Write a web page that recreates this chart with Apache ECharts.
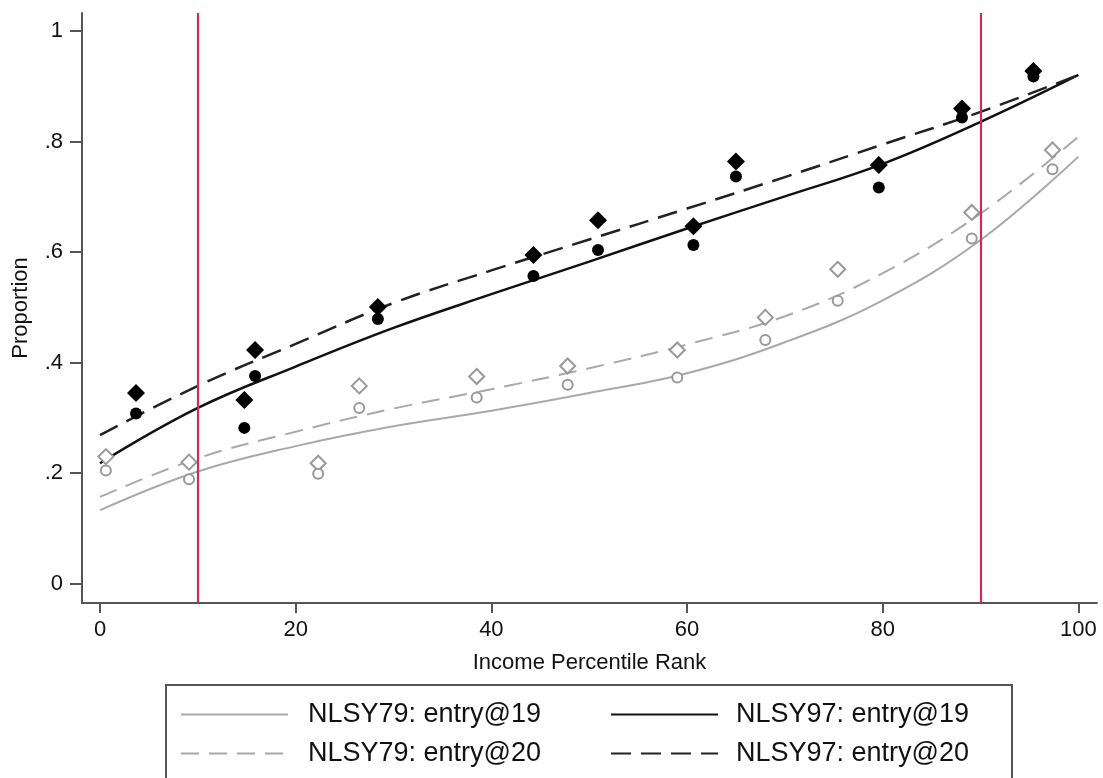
<!DOCTYPE html>
<html>
<head>
<meta charset="utf-8">
<script src="https://cdn.jsdelivr.net/npm/echarts@6/dist/echarts.min.js"></script>
<style>
html,body{margin:0;padding:0;background:#fff;}
#chart{width:1103px;height:778px;}
</style>
</head>
<body>
<div id="chart"></div>
<script>
// ---- data ----
var xTicks = [0, 20, 40, 60, 80, 100];
var xTickLabels = ['0', '20', '40', '60', '80', '100'];
var yTicks = [0, 0.2, 0.4, 0.6, 0.8, 1];
var yTickLabels = ['0', '.2', '.4', '.6', '.8', '1'];
var redLineX = [10, 90];

// fitted curves (sampled along the drawn curves)
var curveX = [0, 10, 20, 30, 40, 50, 60, 70, 80, 90, 100];
var fit79_19 = [0.133, 0.203, 0.249, 0.285, 0.313, 0.345, 0.381, 0.437, 0.513, 0.622, 0.773];
var fit79_20 = [0.157, 0.227, 0.275, 0.317, 0.352, 0.390, 0.433, 0.484, 0.562, 0.670, 0.809];
var fit97_19 = [0.218, 0.318, 0.393, 0.463, 0.524, 0.583, 0.643, 0.701, 0.760, 0.836, 0.921];
var fit97_20 = [0.269, 0.358, 0.434, 0.508, 0.567, 0.623, 0.679, 0.736, 0.795, 0.854, 0.921];

// observed points
var x79 = [0.6, 9.1, 22.3, 26.5, 38.5, 47.8, 59.0, 68.0, 75.4, 89.1, 97.35];
var pts79_20 = [0.230, 0.220, 0.218, 0.358, 0.375, 0.394, 0.423, 0.482, 0.569, 0.672, 0.785];
var pts79_19 = [0.205, 0.189, 0.199, 0.318, 0.337, 0.360, 0.373, 0.441, 0.512, 0.625, 0.750];
var x97 = [3.68, 14.75, 15.85, 28.4, 44.3, 50.9, 60.65, 65.0, 79.6, 88.1, 95.4];
var pts97_20 = [0.345, 0.3325, 0.423, 0.501, 0.595, 0.658, 0.647, 0.764, 0.758, 0.860, 0.928];
var pts97_19 = [0.308, 0.282, 0.376, 0.479, 0.557, 0.604, 0.613, 0.737, 0.717, 0.844, 0.918];

var names = ['NLSY79: entry@19', 'NLSY79: entry@20', 'NLSY97: entry@19', 'NLSY97: entry@20'];

function zip(xs, ys) { return xs.map(function (x, i) { return [x, ys[i]]; }); }

var FONT = '"Liberation Sans", Arial, Helvetica, sans-serif';
var GREY = '#a9a9a9';
var MARK_GREY = '#999999';

var chart = echarts.init(document.getElementById('chart'), null, {renderer: 'canvas'});

function lineSeries(name, ys, color, width, dash, z) {
  return {
    name: name, type: 'line', data: zip(curveX, ys), smooth: 0.4,
    symbol: 'none', showSymbol: false, z: z, silent: true,
    lineStyle: {color: color, width: width, type: dash},
    itemStyle: {color: color}
  };
}

var legendText = {fontSize: 27, color: '#111', fontFamily: FONT, lineHeight: 27};
var legendItem = {color: 'rgba(0,0,0,0)', borderWidth: 0, opacity: 0};

var option = {
  animation: false,
  backgroundColor: '#fff',
  textStyle: {fontFamily: FONT},
  grid: {left: 82, right: 6, top: 13, bottom: 175, containLabel: false, outerBoundsMode: 'none'},
  xAxis: {
    type: 'value', min: -1.84, max: 101.9,
    name: 'Income Percentile Rank', nameLocation: 'middle', nameGap: 49,
    nameTextStyle: {fontSize: 22, color: '#111', fontFamily: FONT},
    axisLine: {show: true, onZero: false, lineStyle: {color: '#555', width: 2}},
    axisTick: {show: true, length: 10, customValues: xTicks, lineStyle: {color: '#555', width: 2}},
    axisLabel: {
      customValues: xTicks, margin: 16, fontSize: 22, color: '#111', fontFamily: FONT,
      formatter: function (v) { var i = xTicks.indexOf(v); return i >= 0 ? xTickLabels[i] : ''; }
    },
    splitLine: {show: false}
  },
  yAxis: {
    type: 'value', min: -0.035, max: 1.033,
    name: 'Proportion', nameLocation: 'middle', nameGap: 50, nameRotate: 90,
    nameTextStyle: {fontSize: 22, color: '#111', fontFamily: FONT},
    axisLine: {show: true, onZero: false, lineStyle: {color: '#555', width: 2}},
    axisTick: {show: true, length: 12, customValues: yTicks, lineStyle: {color: '#555', width: 2}},
    axisLabel: {
      customValues: yTicks, margin: 19, fontSize: 22, color: '#111', fontFamily: FONT,
      formatter: function (v) {
        for (var i = 0; i < yTicks.length; i++) { if (Math.abs(yTicks[i] - v) < 1e-9) return yTickLabels[i]; }
        return '';
      }
    },
    splitLine: {show: false}
  },
  legend: [
    {
      orient: 'vertical', left: 180, top: 701, padding: 0, itemWidth: 107, itemHeight: 14, itemGap: 12,
      data: [names[0], names[1]], selectedMode: false, itemStyle: legendItem,
      textStyle: Object.assign({padding: [0, 0, 0, 15]}, legendText)
    },
    {
      orient: 'vertical', left: 610, top: 701, padding: 0, itemWidth: 107, itemHeight: 14, itemGap: 12,
      data: [names[2], names[3]], selectedMode: false, itemStyle: legendItem,
      textStyle: Object.assign({padding: [0, 0, 0, 13]}, legendText)
    }
  ],
  graphic: [
    {type: 'rect', z: 0, silent: true,
     shape: {x: 166, y: 685, width: 846, height: 130},
     style: {fill: 'none', stroke: '#555', lineWidth: 2}}
  ],
  series: [
    {
      name: 'ref', type: 'line', data: [], z: 1, silent: true,
      markLine: {
        silent: true, symbol: 'none', animation: false,
        label: {show: false},
        lineStyle: {color: '#d12a55', width: 2.2, type: 'solid', opacity: 1},
        data: redLineX.map(function (x) { return {xAxis: x}; })
      }
    },
    lineSeries(names[0], fit79_19, GREY, 2, 'solid', 2),
    lineSeries(names[1], fit79_20, GREY, 2, [18, 10], 2),
    lineSeries(names[2], fit97_19, '#111', 2.5, 'solid', 3),
    lineSeries(names[3], fit97_20, '#222', 2.5, [20, 10], 3),
    {
      name: 'pts79_20', type: 'scatter', data: zip(x79, pts79_20), symbol: 'diamond', symbolSize: [15, 15], z: 4,
      itemStyle: {color: '#fff', borderColor: MARK_GREY, borderWidth: 2, opacity: 1}
    },
    {
      name: 'pts79_19', type: 'scatter', data: zip(x79, pts79_19), symbol: 'circle', symbolSize: 10, z: 4,
      itemStyle: {color: '#fff', borderColor: MARK_GREY, borderWidth: 2, opacity: 1}
    },
    {
      name: 'pts97_20', type: 'scatter', data: zip(x97, pts97_20), symbol: 'diamond', symbolSize: [18, 18], z: 5,
      itemStyle: {color: '#000', opacity: 1}
    },
    {
      name: 'pts97_19', type: 'scatter', data: zip(x97, pts97_19), symbol: 'circle', symbolSize: 12, z: 5,
      itemStyle: {color: '#000', opacity: 1}
    }
  ]
};
chart.setOption(option);
</script>
</body>
</html>
